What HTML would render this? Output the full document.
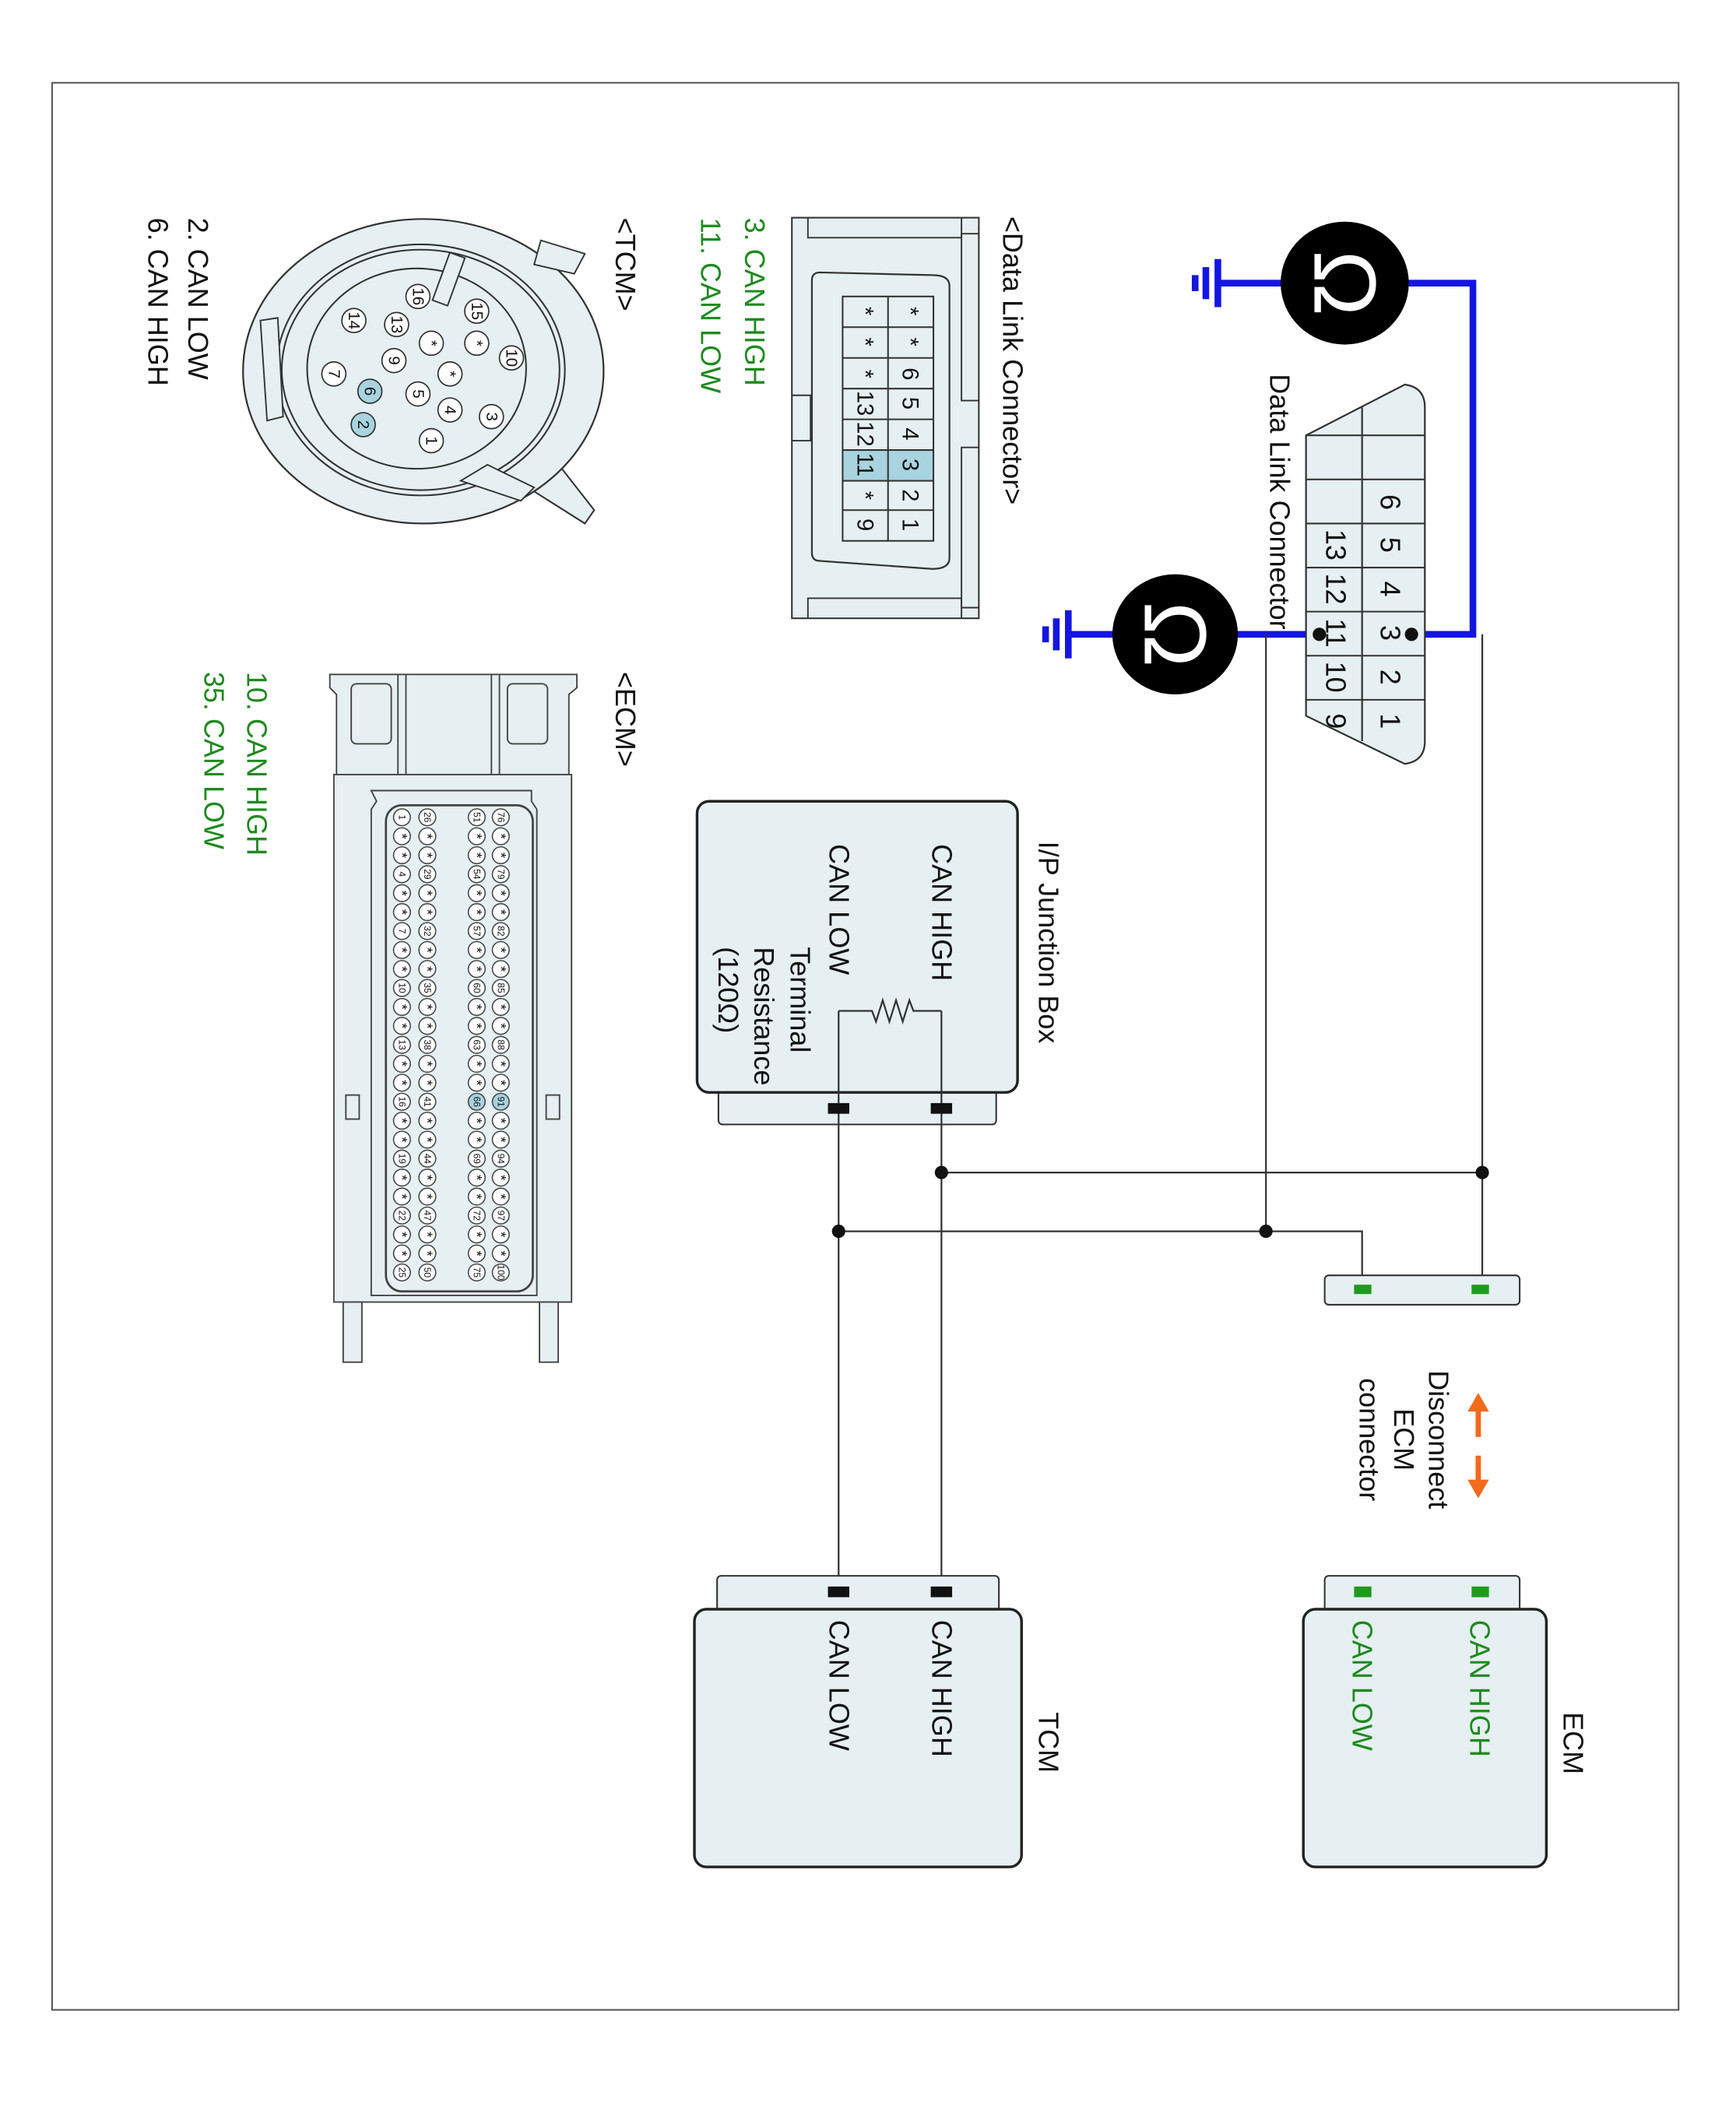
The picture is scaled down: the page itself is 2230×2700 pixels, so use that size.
<!DOCTYPE html>
<html><head><meta charset="utf-8"><style>
html,body{margin:0;padding:0;background:#fff;}
svg{display:block;}
text{font-family:"Liberation Sans Narrow","Liberation Sans",sans-serif;font-size:21px;fill:#111;}
.g{fill:#1f8a1f;}
</style></head><body>
<svg width="2230" height="2700" viewBox="0 0 1300 1574" preserveAspectRatio="none" xmlns="http://www.w3.org/2000/svg">
<rect x="39" y="62" width="1218" height="1443" fill="none" stroke="#555" stroke-width="1.2"/>

<g stroke="#1515e0" stroke-width="5" fill="none">
<polyline points="1050,212 1103,212 1103,475 1057,475"/>
<line x1="960" y1="212" x2="912" y2="212"/>
<line x1="925" y1="475" x2="988" y2="475"/>
<line x1="835" y1="475" x2="800" y2="475"/>
<line x1="912" y1="194" x2="912" y2="230"/>
<line x1="903" y1="200" x2="903" y2="224"/>
<line x1="895" y1="206" x2="895" y2="218"/>
<line x1="800" y1="457" x2="800" y2="493"/>
<line x1="791" y1="463" x2="791" y2="487"/>
<line x1="783" y1="469" x2="783" y2="481"/>
</g>
<ellipse cx="1007" cy="212" rx="48" ry="46" fill="#000"/>
<ellipse cx="880" cy="475" rx="47" ry="45" fill="#000"/>
<text x="1007" y="212" transform="rotate(90 1007 212)" text-anchor="middle" dominant-baseline="central" style="font-size:66px;fill:#fff;">Ω</text>
<text x="880" y="475" transform="rotate(90 880 475)" text-anchor="middle" dominant-baseline="central" style="font-size:66px;fill:#fff;">Ω</text>

<path d="M978,326 L1052,288 Q1067,290 1067,305 L1067,555 Q1067,570 1052,572 L978,536 Z" fill="#e6eff1" stroke="#333" stroke-width="1.3"/>
<line x1="1020" y1="305" x2="1020" y2="555" stroke="#333" stroke-width="1.3"/>
<g stroke="#333" stroke-width="1.2">
<line x1="978" y1="326" x2="1067" y2="326"/><line x1="978" y1="359" x2="1067" y2="359"/>
<line x1="978" y1="392" x2="1067" y2="392"/><line x1="978" y1="425" x2="1067" y2="425"/>
<line x1="978" y1="458" x2="1067" y2="458"/><line x1="978" y1="491" x2="1067" y2="491"/>
<line x1="978" y1="524" x2="1067" y2="524"/>
</g>
<g>
<text x="1034" y="376" transform="rotate(90 1034 376)" text-anchor="middle">6</text>
<text x="1034" y="408" transform="rotate(90 1034 408)" text-anchor="middle">5</text>
<text x="1034" y="441" transform="rotate(90 1034 441)" text-anchor="middle">4</text>
<text x="1034" y="474" transform="rotate(90 1034 474)" text-anchor="middle">3</text>
<text x="1034" y="507" transform="rotate(90 1034 507)" text-anchor="middle">2</text>
<text x="1034" y="540" transform="rotate(90 1034 540)" text-anchor="middle">1</text>
<text x="993" y="408" transform="rotate(90 993 408)" text-anchor="middle">13</text>
<text x="993" y="441" transform="rotate(90 993 441)" text-anchor="middle">12</text>
<text x="993" y="474" transform="rotate(90 993 474)" text-anchor="middle">11</text>
<text x="993" y="507" transform="rotate(90 993 507)" text-anchor="middle">10</text>
<text x="993" y="540" transform="rotate(90 993 540)" text-anchor="middle">9</text>
</g>
<circle cx="1057" cy="475" r="5" fill="#111"/><circle cx="988" cy="475" r="5" fill="#111"/>
<text x="951" y="280" transform="rotate(90 951 280)">Data Link Connector</text>

<g stroke="#333" stroke-width="1.3" fill="none">
<line x1="1110" y1="475" x2="1110" y2="966"/>
<line x1="948" y1="475" x2="948" y2="922"/>
<line x1="705" y1="878" x2="1110" y2="878"/>
<polyline points="628,922 1020,922 1020,966"/>
<line x1="705" y1="757" x2="705" y2="1192"/>
<line x1="628" y1="757" x2="628" y2="1192"/>
</g>
<g fill="#111">
<circle cx="1110" cy="878" r="5"/><circle cx="948" cy="922" r="5"/>
<circle cx="705" cy="878" r="5"/><circle cx="628" cy="922" r="5"/>
</g>

<rect x="992" y="955" width="146" height="22" rx="3" fill="#e6eff1" stroke="#333" stroke-width="1.2"/>
<rect x="1014" y="962" width="13" height="7" fill="#1f9a1f"/><rect x="1102" y="962" width="13" height="7" fill="#1f9a1f"/>

<rect x="538" y="812" width="208" height="30" rx="3" fill="#e6eff1" stroke="#333" stroke-width="1.2"/>
<rect x="522" y="600" width="240" height="218" rx="9" fill="#e6eff1" stroke="#222" stroke-width="2"/>
<g stroke="#333" stroke-width="1.3" fill="none">
<line x1="705" y1="757" x2="705" y2="842"/><line x1="628" y1="757" x2="628" y2="842"/>
<polyline points="705,757 684,757 681,749 676,765 671,749 666,765 661,749 656,765 653,757 628,757"/>
</g>
<rect x="697" y="826" width="16" height="8" fill="#111"/><rect x="620" y="826" width="16" height="8" fill="#111"/>
<text x="778" y="630" transform="rotate(90 778 630)">I/P Junction Box</text>
<text x="698" y="632" transform="rotate(90 698 632)">CAN HIGH</text>
<text x="621" y="632" transform="rotate(90 621 632)">CAN LOW</text>
<text x="592" y="709" transform="rotate(90 592 709)">Terminal</text>
<text x="565" y="709" transform="rotate(90 565 709)">Resistance</text>
<text x="538" y="709" transform="rotate(90 538 709)">(120Ω)</text>

<rect x="537" y="1180" width="211" height="30" rx="3" fill="#e6eff1" stroke="#333" stroke-width="1.2"/>
<rect x="520" y="1205" width="245" height="193" rx="9" fill="#e6eff1" stroke="#222" stroke-width="2"/>
<rect x="697" y="1188" width="16" height="8" fill="#111"/><rect x="620" y="1188" width="16" height="8" fill="#111"/>
<text x="698" y="1213" transform="rotate(90 698 1213)">CAN HIGH</text>
<text x="621" y="1213" transform="rotate(90 621 1213)">CAN LOW</text>
<text x="778" y="1282" transform="rotate(90 778 1282)">TCM</text>

<rect x="992" y="1180" width="146" height="30" rx="3" fill="#e6eff1" stroke="#333" stroke-width="1.2"/>
<rect x="976" y="1205" width="182" height="193" rx="9" fill="#e6eff1" stroke="#222" stroke-width="2"/>
<rect x="1014" y="1188" width="13" height="8" fill="#1f9a1f"/><rect x="1102" y="1188" width="13" height="8" fill="#1f9a1f"/>
<text class="g" x="1101" y="1213" transform="rotate(90 1101 1213)">CAN HIGH</text>
<text class="g" x="1013" y="1213" transform="rotate(90 1013 1213)">CAN LOW</text>
<text x="1171" y="1282" transform="rotate(90 1171 1282)">ECM</text>

<g stroke="#f26a1b" stroke-width="4" fill="#f26a1b">
<line x1="1107" y1="1055" x2="1107" y2="1076"/>
<line x1="1107" y1="1090" x2="1107" y2="1111"/>
<polygon points="1107,1043 1099,1057 1115,1057" stroke="none"/>
<polygon points="1107,1122 1099,1108 1115,1108" stroke="none"/>
</g>
<text x="1070" y="1078" transform="rotate(90 1070 1078)" text-anchor="middle">Disconnect</text>
<text x="1044" y="1078" transform="rotate(90 1044 1078)" text-anchor="middle">ECM</text>
<text x="1018" y="1078" transform="rotate(90 1018 1078)" text-anchor="middle">connector</text>

<text x="751" y="162" transform="rotate(90 751 162)">&lt;Data Link Connector&gt;</text>
<rect x="593" y="163" width="140" height="300" fill="#e6eff1" stroke="#333" stroke-width="1.2"/>
<g fill="none" stroke="#333" stroke-width="1.1">
<polyline points="593,296 607,296 607,330 593,330"/>
<polyline points="733,175 720,175 720,300 733,300"/>
<polyline points="733,455 720,455 720,335 733,335"/>
<polyline points="605,163 605,178 720,178 720,163"/>
<polyline points="605,463 605,448 720,448 720,463"/>
</g>
<path d="M608,250 L608,210 Q608,204 614,204 L698,206 Q711,206 711,214 L711,418 Q711,426 698,426 L614,420 Q608,420 608,414 Z" fill="#e6eff1" stroke="#333" stroke-width="1.3"/>
<rect x="631" y="337" width="68" height="23" fill="#a8d3df"/>
<g stroke="#333" stroke-width="1.2" fill="none">
<rect x="631" y="222" width="68" height="183"/>
<line x1="665" y1="222" x2="665" y2="405"/>
<line x1="631" y1="245" x2="699" y2="245"/><line x1="631" y1="268" x2="699" y2="268"/>
<line x1="631" y1="291" x2="699" y2="291"/><line x1="631" y1="314" x2="699" y2="314"/>
<line x1="631" y1="337" x2="699" y2="337"/><line x1="631" y1="360" x2="699" y2="360"/>
<line x1="631" y1="382" x2="699" y2="382"/>
</g>
<g>
<text x="676" y="233" transform="rotate(90 676 233)" text-anchor="middle" style="font-size:17px">*</text>
<text x="676" y="256" transform="rotate(90 676 256)" text-anchor="middle" style="font-size:17px">*</text>
<text x="676" y="280" transform="rotate(90 676 280)" text-anchor="middle" style="font-size:17px">6</text>
<text x="676" y="302" transform="rotate(90 676 302)" text-anchor="middle" style="font-size:17px">5</text>
<text x="676" y="325" transform="rotate(90 676 325)" text-anchor="middle" style="font-size:17px">4</text>
<text x="676" y="348" transform="rotate(90 676 348)" text-anchor="middle" style="font-size:17px">3</text>
<text x="676" y="371" transform="rotate(90 676 371)" text-anchor="middle" style="font-size:17px">2</text>
<text x="676" y="393" transform="rotate(90 676 393)" text-anchor="middle" style="font-size:17px">1</text>
<text x="642" y="233" transform="rotate(90 642 233)" text-anchor="middle" style="font-size:17px">*</text>
<text x="642" y="256" transform="rotate(90 642 256)" text-anchor="middle" style="font-size:17px">*</text>
<text x="642" y="280" transform="rotate(90 642 280)" text-anchor="middle" style="font-size:17px">*</text>
<text x="642" y="302" transform="rotate(90 642 302)" text-anchor="middle" style="font-size:17px">13</text>
<text x="642" y="325" transform="rotate(90 642 325)" text-anchor="middle" style="font-size:17px">12</text>
<text x="642" y="348" transform="rotate(90 642 348)" text-anchor="middle" style="font-size:17px">11</text>
<text x="642" y="371" transform="rotate(90 642 371)" text-anchor="middle" style="font-size:17px">*</text>
<text x="642" y="393" transform="rotate(90 642 393)" text-anchor="middle" style="font-size:17px">9</text>
</g>
<text class="g" x="558" y="163" transform="rotate(90 558 163)">3. CAN HIGH</text>
<text class="g" x="525" y="163" transform="rotate(90 525 163)">11. CAN LOW</text>

<text x="461" y="163" transform="rotate(90 461 163)">&lt;TCM&gt;</text>
<polygon points="420,350 445,382 438,392 400,368" fill="#e6eff1" stroke="#333" stroke-width="1.2"/>
<ellipse cx="317" cy="278" rx="135" ry="114" fill="#e6eff1" stroke="#333" stroke-width="1.3"/>
<ellipse cx="315" cy="277" rx="108" ry="94" fill="none" stroke="#333" stroke-width="1.2"/>
<ellipse cx="315" cy="277" rx="104" ry="90" fill="none" stroke="#333" stroke-width="1.2"/>
<ellipse cx="312" cy="276" rx="82" ry="75" fill="none" stroke="#333" stroke-width="1.2"/>
<g fill="#e6eff1" stroke="#333" stroke-width="1.1">
<path d="M405,180 L438,190 L430,205 L400,198 Z"/>
<path d="M195,240 L208,238 L212,312 L200,315 Z"/>
<path d="M345,360 L365,348 L400,365 L390,375 Z"/>
<rect x="330" y="190" width="12" height="38" transform="rotate(20 336 209)"/>
</g>
<g fill="#fff" stroke="#333" stroke-width="1">
<circle cx="313" cy="222" r="9"/><circle cx="357" cy="233" r="9"/><circle cx="265" cy="240" r="9"/>
<circle cx="297" cy="243" r="9"/><circle cx="323" cy="257" r="9"/><circle cx="357" cy="257" r="9"/>
<circle cx="383" cy="268" r="9"/><circle cx="295" cy="270" r="9"/><circle cx="337" cy="280" r="9"/>
<circle cx="250" cy="280" r="9"/><circle cx="313" cy="295" r="9"/><circle cx="337" cy="307" r="9"/>
<circle cx="368" cy="312" r="9"/><circle cx="323" cy="330" r="9"/>
<circle cx="277" cy="293" r="9" fill="#a8d3df"/><circle cx="272" cy="318" r="9" fill="#a8d3df"/>
</g>
<g>
<text x="313" y="222" transform="rotate(90 313 222)" text-anchor="middle" dominant-baseline="central" style="font-size:12px">16</text>
<text x="357" y="233" transform="rotate(90 357 233)" text-anchor="middle" dominant-baseline="central" style="font-size:12px">15</text>
<text x="265" y="240" transform="rotate(90 265 240)" text-anchor="middle" dominant-baseline="central" style="font-size:12px">14</text>
<text x="297" y="243" transform="rotate(90 297 243)" text-anchor="middle" dominant-baseline="central" style="font-size:12px">13</text>
<text x="323" y="257" transform="rotate(90 323 257)" text-anchor="middle" dominant-baseline="central" style="font-size:12px">*</text>
<text x="357" y="257" transform="rotate(90 357 257)" text-anchor="middle" dominant-baseline="central" style="font-size:12px">*</text>
<text x="383" y="268" transform="rotate(90 383 268)" text-anchor="middle" dominant-baseline="central" style="font-size:12px">10</text>
<text x="295" y="270" transform="rotate(90 295 270)" text-anchor="middle" dominant-baseline="central" style="font-size:12px">9</text>
<text x="337" y="280" transform="rotate(90 337 280)" text-anchor="middle" dominant-baseline="central" style="font-size:12px">*</text>
<text x="250" y="280" transform="rotate(90 250 280)" text-anchor="middle" dominant-baseline="central" style="font-size:12px">7</text>
<text x="277" y="293" transform="rotate(90 277 293)" text-anchor="middle" dominant-baseline="central" style="font-size:12px">6</text>
<text x="313" y="295" transform="rotate(90 313 295)" text-anchor="middle" dominant-baseline="central" style="font-size:12px">5</text>
<text x="337" y="307" transform="rotate(90 337 307)" text-anchor="middle" dominant-baseline="central" style="font-size:12px">4</text>
<text x="368" y="312" transform="rotate(90 368 312)" text-anchor="middle" dominant-baseline="central" style="font-size:12px">3</text>
<text x="272" y="318" transform="rotate(90 272 318)" text-anchor="middle" dominant-baseline="central" style="font-size:12px">2</text>
<text x="323" y="330" transform="rotate(90 323 330)" text-anchor="middle" dominant-baseline="central" style="font-size:12px">1</text>
</g>
<text x="141" y="163" transform="rotate(90 141 163)">2. CAN LOW</text>
<text x="111" y="163" transform="rotate(90 111 163)">6. CAN HIGH</text>

<text x="461" y="503" transform="rotate(90 461 503)">&lt;ECM&gt;</text>
<text class="g" x="185" y="503" transform="rotate(90 185 503)">10. CAN HIGH</text>
<text class="g" x="153" y="503" transform="rotate(90 153 503)">35. CAN LOW</text>
<g fill="#e6eff1" stroke="#444" stroke-width="1.1">
<path d="M247,505 L432,505 L432,515 L426,520 L426,580 L252,580 L252,520 L247,515 Z"/>
<rect x="263" y="512" width="30" height="45" rx="4"/>
<rect x="380" y="512" width="30" height="45" rx="4"/>
<line x1="298" y1="505" x2="298" y2="580"/><line x1="304" y1="505" x2="304" y2="580"/>
<line x1="368" y1="505" x2="368" y2="580"/><line x1="374" y1="505" x2="374" y2="580"/>
<rect x="250" y="580" width="178" height="395"/>
<rect x="257" y="975" width="14" height="45"/><rect x="404" y="975" width="14" height="45"/>
<rect x="259" y="820" width="10" height="18"/><rect x="409" y="820" width="10" height="18"/>
<path d="M278,592 L398,592 L398,600 L402,606 L402,970 L278,970 L278,606 L282,600 Z"/>
<rect x="289" y="603" width="110" height="364" rx="12" stroke-width="1.6"/>
</g>
<g fill="#fff" stroke="#444" stroke-width="0.9" id="pins"></g>
<g id="epins"></g>
<script>
(function(){
var ns="http://www.w3.org/2000/svg",g=document.getElementById("pins");
var cols=[301,320,357,375];
for(var c=0;c<4;c++){for(var r=0;r<25;r++){
var y=612+r*14.2;
var e=document.createElementNS(ns,"circle");
e.setAttribute("cx",cols[c]);e.setAttribute("cy",y);e.setAttribute("r",6.3);
if((c==2||c==3)&&r==15)e.setAttribute("fill","#a8d3df");
g.appendChild(e);
var num=((r*7+c*3)%3==0);
var t=document.createElementNS(ns,"text");
t.setAttribute("x",cols[c]);t.setAttribute("y",y);
t.setAttribute("transform","rotate(90 "+cols[c]+" "+y+")");
t.setAttribute("text-anchor","middle");t.setAttribute("dominant-baseline","central");
t.setAttribute("style","font-size:"+(num?"7px":"11px"));
t.textContent=num?String(c*25+r+1):"*";
document.getElementById("epins").appendChild(t);
}}
})();
</script>
</svg>
</body></html>
